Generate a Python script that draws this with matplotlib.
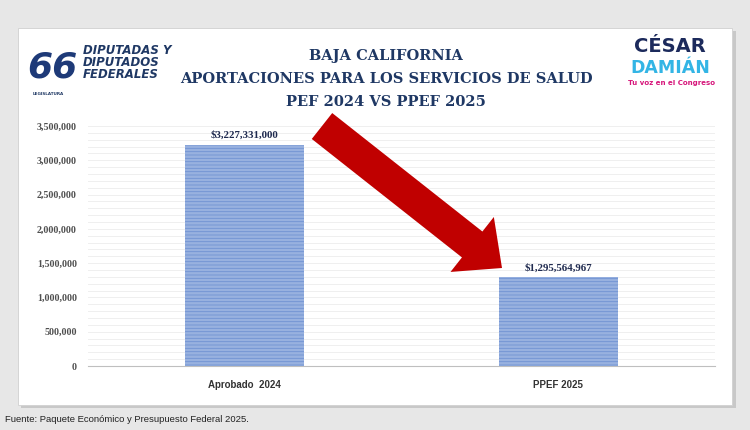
import numpy as np
import matplotlib
matplotlib.use("Agg")
import matplotlib.pyplot as plt
from matplotlib.patches import Rectangle, Polygon
from matplotlib.ticker import MultipleLocator, FuncFormatter

# data
categories = ["Aprobado  2024", "PPEF 2025"]
values = [3227331000, 1295564967]
value_labels = ["$3,227,331,000", "$1,295,564,967"]
# the axis of the original runs 0 .. 3,500,000 (thousands)
scale = 1000
title_lines = ["BAJA CALIFORNIA",
               "APORTACIONES PARA LOS SERVICIOS DE SALUD",
               "PEF 2024 VS PPEF 2025"]
source = "Fuente: Paquete Económico y Presupuesto Federal 2025."

W, H = 750, 430
navy = "#1f3864"
plt.rcParams["hatch.linewidth"] = 0.6

fig = plt.figure(figsize=(7.5, 4.3), dpi=100)
fig.patch.set_facecolor("#e7e7e7")

def px(x, y):
    return (x / W, 1 - y / H)

# white card + shadow, under the axes
fig.patches.append(Rectangle(px(21, 408), 715 / W, 377 / H, transform=fig.transFigure,
                             facecolor="#c8c8c8", edgecolor="none", zorder=-3))
fig.patches.append(Rectangle(px(18, 405), 714 / W, 377 / H, transform=fig.transFigure,
                             facecolor="white", edgecolor="#d0d0d0", lw=0.6, zorder=-2))

ax = fig.add_axes([88 / W, 1 - 366 / H, 627 / W, 240 / H])
ax.set_facecolor("none")

x = np.arange(len(categories))
vals = [v / scale for v in values]
ax.bar(x, vals, width=0.38, color="#98b1df", edgecolor="#7092d3",
       hatch="-----", linewidth=0, zorder=3)

for xi, v, lab in zip(x, vals, value_labels):
    ax.text(xi, v + 70000, lab, ha="center", va="bottom", fontsize=7.8,
            fontweight="bold", family="Liberation Serif", color="#1f2a4f", zorder=5)

ax.set_xlim(-0.5, 1.5)
ax.set_ylim(0, 3500000)
ax.yaxis.set_major_locator(MultipleLocator(500000))
ax.yaxis.set_minor_locator(MultipleLocator(100000))
ax.yaxis.set_major_formatter(FuncFormatter(lambda v, p: f"{int(v):,}"))
ax.grid(axis="y", which="both", color="#efefef", lw=0.7, zorder=0)
ax.set_xticks(x)
ax.set_xticklabels(categories, fontsize=7, fontweight="bold",
                   family="Liberation Sans", color="#333333")
for t in ax.get_yticklabels():
    t.set_family("Liberation Serif")
    t.set_fontsize(7.2)
    t.set_fontweight("bold")
    t.set_color("#505050")
ax.tick_params(which="both", length=0, pad=8)
ax.tick_params(axis="x", pad=10)
for s in ["top", "right", "left"]:
    ax.spines[s].set_visible(False)
ax.spines["bottom"].set_color("#bfbfbf")
ax.spines["bottom"].set_linewidth(0.8)

# title
for i, line in enumerate(title_lines):
    fig.text(386 / W, 1 - (56 + i * 23) / H, line, ha="center", va="center",
             fontsize=10.5, fontweight="bold", family="DejaVu Serif", color=navy)

# red arrow (decoration), built in pixel space
tail = np.array([322.0, 126.0])
tip = np.array([502.0, 268.0])
d = tip - tail
u = d / np.hypot(*d)
n = np.array([-u[1], u[0]])
shaft_w, head_w, head_l = 33, 70, 38
base = tip - u * head_l
pts = [tail + n * shaft_w / 2, base + n * shaft_w / 2, base + n * head_w / 2, tip,
       base - n * head_w / 2, base - n * shaft_w / 2, tail - n * shaft_w / 2]
fig.patches.append(Polygon([px(*p) for p in pts], closed=True, transform=fig.transFigure,
                           facecolor="#c00000", edgecolor="none", zorder=10))

# left logo (approximation in text)
fig.text(27 / W, 1 - 67 / H, "66", fontsize=26, fontweight="bold", style="italic",
         family="DejaVu Sans", color="#1e3a78", va="center", ha="left")
fig.text(33 / W, 1 - 94 / H, "LEGISLATURA", fontsize=3, fontweight="bold",
         color=navy, va="center", ha="left")
for i, w in enumerate(["DIPUTADAS Y", "DIPUTADOS", "FEDERALES"]):
    fig.text(83 / W, 1 - (50 + i * 12) / H, w, fontsize=8.5, fontweight="bold",
             style="italic", family="DejaVu Sans", color=navy, va="center", ha="left")

# right logo (approximation in text)
fig.text(670 / W, 1 - 47 / H, "CÉSAR", fontsize=14, fontweight="bold",
         family="DejaVu Sans", color="#1c2a5c", ha="center", va="center")
fig.text(670 / W, 1 - 68 / H, "DAMIÁN", fontsize=12.5, fontweight="bold",
         family="DejaVu Sans", color="#33b5e5", ha="center", va="center")
fig.text(672 / W, 1 - 83 / H, "Tu voz en el Congreso", fontsize=5, fontweight="bold",
         family="DejaVu Sans", color="#d6157a", ha="center", va="center")

fig.text(5 / W, 1 - 419 / H, source, fontsize=6.8,
         family="Liberation Sans", color="#222222", ha="left", va="center")

fig.savefig("out.png", dpi=100, facecolor=fig.get_facecolor())
